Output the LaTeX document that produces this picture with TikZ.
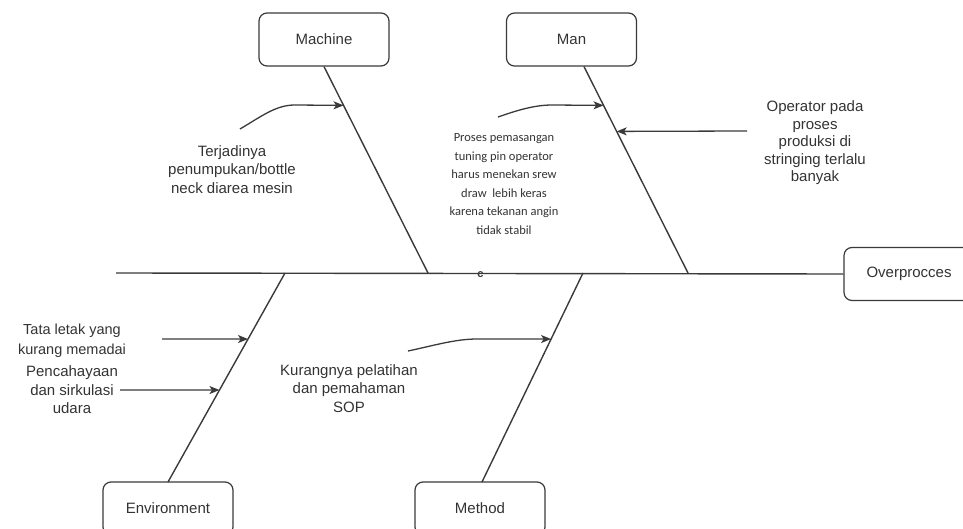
\documentclass[tikz,border=0pt]{standalone}
\usepackage{fontspec}
\setmainfont{Liberation Sans}
\newfontfamily\notefont{Carlito}
\usetikzlibrary{arrows.meta,calc}

\definecolor{ink}{HTML}{333333}
\definecolor{edge}{HTML}{3A3A3A}

\tikzset{
  catbox/.style={draw=edge, line width=1.2pt, rounded corners=8pt,
    minimum width=130pt, minimum height=53pt, inner sep=0pt,
    font=\fontsize{15}{18}\selectfont, text=ink},
  bone/.style={draw=edge, line width=1.4pt},
  cause/.style={draw=edge, line width=1.3pt,
    -{Stealth[length=10pt,width=8pt,inset=2.5pt]}},
  lbl/.style={align=center, text=ink, inner sep=0pt,
    font=\fontsize{15}{18.5}\selectfont},
  smalllbl/.style={align=center, text=ink, inner sep=0pt,
    font=\notefont\fontsize{12.5}{18.6}\selectfont},
}

\begin{document}
\begin{tikzpicture}[x=1pt, y=-1pt]
\useasboundingbox (0,0) rectangle (963,529);

% category boxes
\node[catbox] (machine) at (324,39.5) {Machine};
\node[catbox] (man) at (571.5,39.5) {Man};
\node[catbox] (effect) at (909,274) {Overprocces};
\node[catbox] (env) at (168,508.5) {Environment};
\node[catbox] (method) at (480,508.5) {Method};

% spine
\coordinate (spineL) at (116,273);
\draw[bone] (spineL) -- (effect.west);
\node[anchor=base, text=edge, inner sep=0pt, font=\bfseries\fontsize{11}{11}\selectfont] (mid) at (480.5,277) {c};

% junctions on the spine
\coordinate (jMachine) at (428,273);
\coordinate (jMan) at (688,273);
\coordinate (jEnv) at (285,273);
\coordinate (jMethod) at (583,273);

% bones
\coordinate (sMan) at ($(man.south)+(12.5,0)$);
\draw[bone] (machine.south) -- (jMachine);
\draw[bone] (sMan) -- (jMan);
\coordinate (bEnv) at (168,482);
\coordinate (bMethod) at (482,482);
\draw[bone] (jEnv) -- (bEnv);
\draw[bone] (jMethod) -- (bMethod);

% arrow targets on the bones
\coordinate (tMachine) at ($(machine.south)!0.188!(jMachine)$);
\coordinate (tMan1) at ($(sMan)!0.188!(jMan)$);
\coordinate (tMan2) at ($(sMan)!0.314!(jMan)$);
\coordinate (tEnv1) at ($(jEnv)!0.316!(bEnv)$);
\coordinate (tEnv2) at ($(jEnv)!0.560!(bEnv)$);
\coordinate (tMethod) at ($(jMethod)!0.316!(bMethod)$);

% cause labels
\node[lbl] (cMachine) at (232,169.5) {Terjadinya\\penumpukan/bottle\\neck diarea mesin};
\node[smalllbl] (cMan1) at (504,184) {Proses pemasangan\\tuning pin operator\\harus menekan srew\\draw\ \ lebih keras\\karena tekanan angin\\tidak stabil};
\node[lbl, font=\fontsize{15}{17.5}\selectfont] (cMan2) at (815,143) {Operator pada\\proses\\produksi di\\stringing terlalu\\banyak};
\node[lbl, font=\fontsize{14.5}{19.5}\selectfont] (cEnv1) at (72,340.5) {Tata letak yang\\kurang memadai};
\node[lbl] (cEnv2) at (72,390) {Pencahayaan\\dan sirkulasi\\udara};
\node[lbl] (cMethod) at (349,388.5) {Kurangnya pelatihan\\dan pemahaman\\SOP};

% cause arrows
\coordinate (aMachine) at (240,129);
\coordinate (aMan1) at (498,117);
\coordinate (aMan2) at (747,131);
\coordinate (aEnv1) at (162,339);
\coordinate (aEnv2) at (120,390);
\coordinate (aMethod) at (408,351);

\draw[cause] (aMachine) .. controls (262,116) and (276,105) .. (295,105) -- (tMachine);
\draw[cause] (aMan1) .. controls (518,110) and (535,105) .. (552,105) -- (tMan1);
\draw[cause] (aMan2) -- (tMan2);
\draw[cause] (aEnv1) -- (tEnv1);
\draw[cause] (aEnv2) -- (tEnv2);
\draw[cause] (aMethod) .. controls (432,346) and (455,339) .. (477,339) -- (tMethod);
\end{tikzpicture}
\end{document}
